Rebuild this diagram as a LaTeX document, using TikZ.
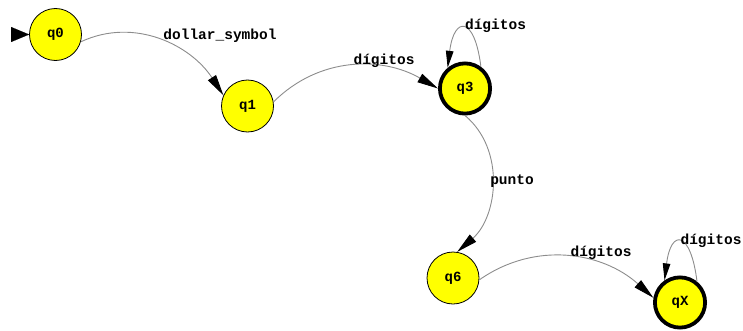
\documentclass[tikz,border=0pt]{standalone}
\usepackage{fontspec}
\setmonofont{Liberation Mono}
\usetikzlibrary{arrows.meta}

\definecolor{statefill}{RGB}{255,255,0}
\definecolor{edgegray}{RGB}{140,140,140}

\tikzset{
  state/.style={circle, draw=black, line width=0.8pt, fill=statefill,
    minimum size=52pt, inner sep=0pt,
    font=\ttfamily\bfseries\fontsize{14}{14}\selectfont},
  accepting/.style={state, line width=3.8pt, minimum size=50.2pt},
  edge/.style={draw=edgegray, line width=0.9pt,
    -{Triangle[length=21pt,width=9.5pt,color=black,fill=black]}},
  loopedge/.style={draw=edgegray, line width=0.9pt,
    -{Triangle[length=17pt,width=7.5pt,color=black,fill=black]}},
  lbl/.style={font=\ttfamily\bfseries\fontsize{14.5}{14.5}\selectfont, inner sep=0pt}
}

\begin{document}
\begin{tikzpicture}[x=1pt,y=1pt]
  \useasboundingbox (0,0) rectangle (743,330);

  % states
  \node[state]     (q0) at (55.5,295.5) {q0};
  \node[state]     (q1) at (247.5,224)  {q1};
  \node[accepting] (q3) at (465,241.5)  {q3};
  \node[state]     (q6) at (453,52)     {q6};
  \node[accepting] (qX) at (680,27.5)   {qX};

  % start marker: a bare arrowhead touching q0
  \coordinate (init) at (11,295.5);
  \draw[draw=black, line width=0.1pt,
    -{Triangle[length=18pt,width=15pt,color=black,fill=black]}] (init) -- (q0);

  % transitions
  \draw[edge] (q0.-16) to[out=25,in=123] (q1.156);
  \node[lbl] (l01) at (220,294) {dollar\_symbol};

  \draw[edge] (q1.9) to[out=45,in=150] (q3.180);
  \node[lbl] (l13) at (384,269) {dígitos};

  \draw[loopedge] (q3.54) .. controls +(97:52) and +(83:52) .. (q3.130);
  \node[lbl] (l33) at (495.5,304) {dígitos};

  \draw[edge] (q3.-90) to[out=-40,in=41] (q6.81);
  \node[lbl] (l36) at (512,149) {punto};

  \draw[edge] (q6.-4) to[out=35,in=138] (qX.170);
  \node[lbl] (l6X) at (601,77) {dígitos};

  \draw[loopedge] (qX.51) .. controls +(97:52) and +(83:52) .. (qX.125);
  \node[lbl] (lXX) at (711,89) {dígitos};
\end{tikzpicture}
\end{document}
